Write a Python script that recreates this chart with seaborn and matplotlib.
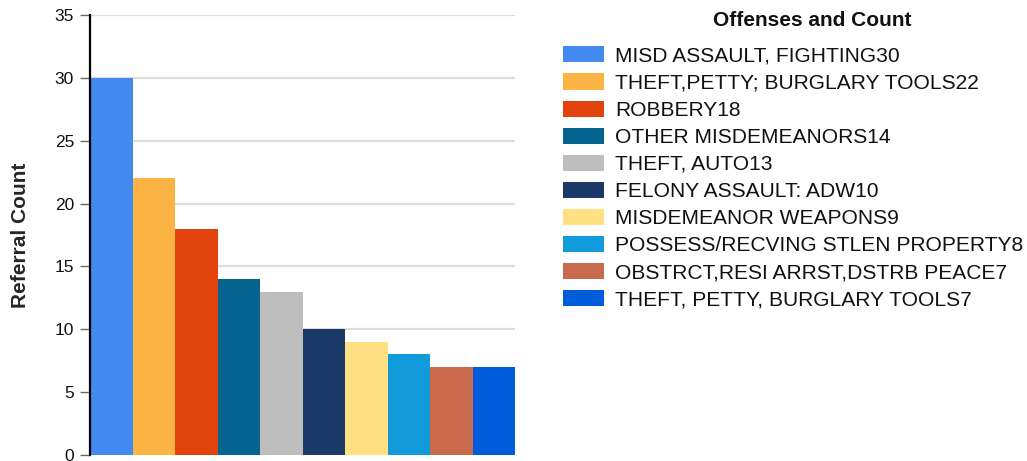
import matplotlib
matplotlib.use("Agg")
import matplotlib.pyplot as plt
import seaborn as sns
import pandas as pd
from matplotlib.patches import Patch

# offenses and referral counts
offenses = ["MISD ASSAULT, FIGHTING", "THEFT,PETTY; BURGLARY TOOLS", "ROBBERY",
            "OTHER MISDEMEANORS", "THEFT, AUTO", "FELONY ASSAULT: ADW",
            "MISDEMEANOR WEAPONS", "POSSESS/RECVING STLEN PROPERTY",
            "OBSTRCT,RESI ARRST,DSTRB PEACE", "THEFT, PETTY, BURGLARY TOOLS"]
counts = [30, 22, 18, 14, 13, 10, 9, 8, 7, 7]
colors = ["#4289F0", "#FBB443", "#E0430B", "#05638F", "#BEBEBE",
          "#1B3A69", "#FFE082", "#129BDB", "#C96A4D", "#005CD9"]
yticks = [0, 5, 10, 15, 20, 25, 30, 35]

df = pd.DataFrame({"offense": offenses, "count": counts})

sns.set_style("white")
plt.rcParams["font.family"] = ["Liberation Sans", "DejaVu Sans"]

fig = plt.figure(figsize=(10.27, 4.61), dpi=100)
ax = fig.add_axes([90 / 1027, 1 - 455 / 461, 425 / 1027, 440 / 461])

sns.barplot(data=df, x="offense", y="count", hue="offense", palette=colors,
            width=1, legend=False, ax=ax, saturation=1, edgecolor="none")

ax.set_xlim(-0.5, len(offenses) - 0.5)
ax.set_ylim(0, 35)
ax.set_yticks(yticks)
ax.set_xticks([])
ax.set_xlabel("")
ax.set_ylabel("Referral Count", fontsize=15, fontweight="bold", labelpad=18)
for y in yticks:
    ax.axhline(y, color="#dddddd", lw=1.6, zorder=0)
ax.set_axisbelow(True)
for s in ["top", "right", "bottom"]:
    ax.spines[s].set_visible(False)
ax.spines["left"].set_color("black")
ax.spines["left"].set_linewidth(1.6)
ax.spines["left"].set_zorder(5)
ax.tick_params(axis="y", length=7.5, width=1, color="#666666", labelsize=12.5,
               labelcolor="#111111", pad=4, left=True)

handles = [Patch(facecolor=c, edgecolor="none") for c in colors]
labels = [f"{o}{c}" for o, c in zip(offenses, counts)]
fig.legend(handles, labels, loc="upper left", bbox_to_anchor=(555 / 1027, 1 - 38 / 461),
           frameon=False, fontsize=15.1, handlelength=1.95, handleheight=0.8,
           handletextpad=0.5, labelspacing=0.37, borderaxespad=0, labelcolor="#111111")
fig.text(812 / 1027, 1 - 20 / 461, "Offenses and Count", ha="center", va="center",
         fontsize=15, fontweight="bold", color="#111111")

fig.savefig("out.png", dpi=100)
